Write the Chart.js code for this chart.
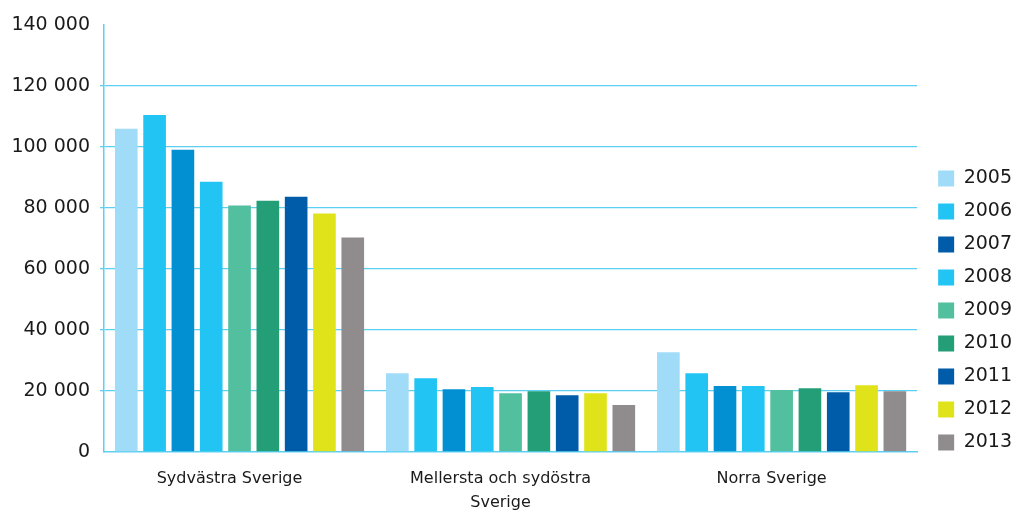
<!DOCTYPE html>
<html>
<head>
<meta charset="utf-8">
<script src="https://cdn.jsdelivr.net/npm/chart.js@4/dist/chart.umd.min.js"></script>
<style>
  html, body { margin: 0; padding: 0; background: #fff; }
  #wrap { width: 1022px; height: 513px; position: relative; }
</style>
</head>
<body>
<div id="wrap"><canvas id="chart"></canvas></div>
<script>
const regions = ["Sydvästra Sverige", ["Mellersta och sydöstra", "Sverige"], "Norra Sverige"];
const years = ["2005", "2006", "2007", "2008", "2009", "2010", "2011", "2012", "2013"];

// one array per year: Sydvästra, Mellersta/sydöstra, Norra
const v2005 = [106000, 25800, 32700];
const v2006 = [110500, 24200, 25800];
const v2007 = [99100, 20600, 21600];
const v2008 = [88600, 21300, 21600];
const v2009 = [80800, 19300, 20300];
const v2010 = [82400, 19900, 20900];
const v2011 = [83700, 18600, 19600];
const v2012 = [78200, 19300, 21900];
const v2013 = [70300, 15400, 19900];

const barColors = ["#a0dcf7", "#22c4f4", "#0290d2", "#22c4f4", "#52bf9f", "#239e77", "#005ba9", "#e0e31a", "#908b8c"];
// legend swatch for 2007 is darker than its bars in the source
const legendColors = ["#a0dcf7", "#22c4f4", "#005ba9", "#22c4f4", "#52bf9f", "#239e77", "#005ba9", "#e0e31a", "#908b8c"];

const yTicks = [0, 20000, 40000, 60000, 80000, 100000, 120000, 140000];

const seriesValues = [v2005, v2006, v2007, v2008, v2009, v2010, v2011, v2012, v2013];
const gridCol = "#5cd0f2";
const textCol = "#1a1a1a";
const fontFam = "'DejaVu Sans', sans-serif";

const fmt = (v) => String(v).replace(/\B(?=(\d{3})+(?!\d))/g, " ");

new Chart(document.getElementById("chart"), {
  type: "bar",
  data: {
    labels: regions,
    datasets: years.map((y, i) => ({
      label: y,
      data: seriesValues[i],
      backgroundColor: barColors[i],
      borderWidth: 0,
      barPercentage: 0.8,
      categoryPercentage: 0.94
    }))
  },
  options: {
    responsive: true,
    maintainAspectRatio: false,
    animation: false,
    layout: { padding: { top: 25, right: 0, left: 0, bottom: 0 } },
    plugins: {
      tooltip: { enabled: false },
      legend: {
        position: "right",
        align: "start",
        // blank title only pushes the swatches down to where the source has them
        title: { display: true, text: " ", font: { size: 10, lineHeight: 1 }, padding: { top: 120, bottom: 0 } },
        labels: {
          boxWidth: 16,
          boxHeight: 16,
          padding: 14,
          color: textCol,
          font: { family: fontFam, size: 19 },
          generateLabels: () => years.map((y, i) => ({
            text: y,
            fillStyle: legendColors[i],
            strokeStyle: legendColors[i],
            fontColor: textCol,
            lineWidth: 0,
            datasetIndex: i,
            hidden: false
          }))
        }
      }
    },
    scales: {
      x: {
        grid: { display: false, drawTicks: false },
        border: { display: true, color: gridCol, width: 1.5 },
        afterFit: (scale) => { scale.height = 61; },
        ticks: {
          color: textCol,
          font: { family: fontFam, size: 16, lineHeight: 1.55 },
          padding: 14,
          labelOffset: -10,
          maxRotation: 0,
          autoSkip: false
        }
      },
      y: {
        min: 0,
        max: 140000,
        afterBuildTicks: (scale) => { scale.ticks = yTicks.map((v) => ({ value: v })); },
        afterFit: (scale) => { scale.width = 104; },
        grid: {
          color: (ctx) => (ctx.tick && (ctx.tick.value === 140000 || ctx.tick.value === 0)) ? "rgba(0,0,0,0)" : gridCol,
          lineWidth: 1.3,
          tickLength: 4,
          drawTicks: true
        },
        border: { display: true, color: gridCol, width: 1.5 },
        ticks: {
          color: textCol,
          font: { family: fontFam, size: 19 },
          padding: 10,
          callback: (v) => fmt(v)
        }
      },
      // empty spacer between plot and legend
      gap: {
        position: "right",
        display: true,
        grid: { display: false, drawTicks: false },
        border: { display: false },
        ticks: { display: false },
        afterFit: (scale) => { scale.width = 7; }
      }
    }
  }
});
</script>
</body>
</html>
